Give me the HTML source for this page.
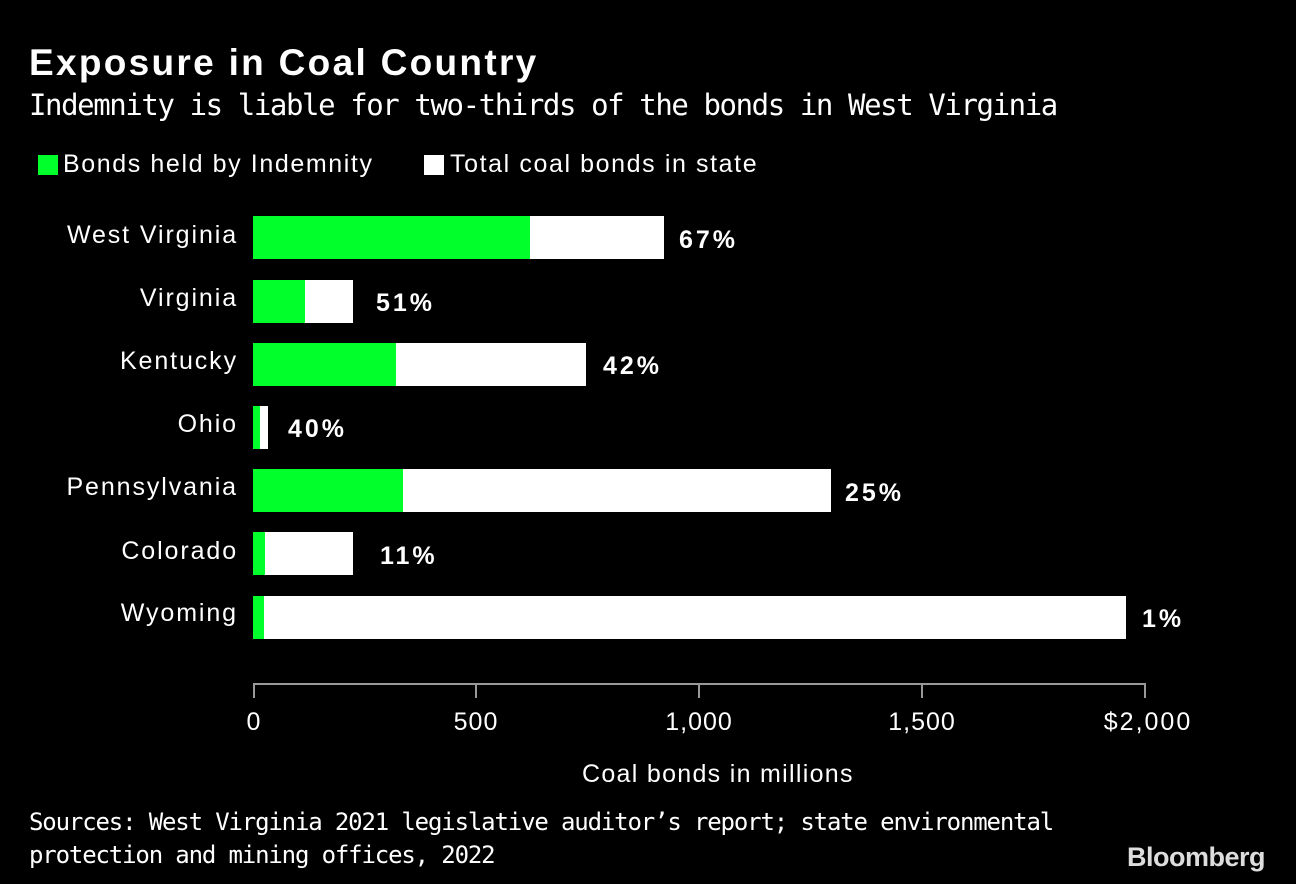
<!DOCTYPE html>
<html><head><meta charset="utf-8"><style>
body{margin:0;background:#000;width:1296px;height:884px;overflow:hidden;position:relative;font-family:"Liberation Sans",sans-serif;color:#fff}
div{position:absolute}
.t{left:29px;top:42px;font-size:37px;font-weight:bold;letter-spacing:2.3px}
.s{left:29px;top:88px;font-size:29px;font-family:"DejaVu Sans Mono","Liberation Mono",monospace;letter-spacing:-1.4px}
.lab{right:1058px;font-size:25px;letter-spacing:1.9px;text-align:right;white-space:nowrap}
.g{background:#00ff2b;height:43px}
.w{background:#fff;height:43px}
.p{font-size:25px;font-weight:bold;letter-spacing:3px}
.tick{width:2px;height:14px;background:#999;top:684px}
.tl{font-size:25px;top:708px;transform:translateX(-50%);letter-spacing:1px}
.src{left:29px;top:806px;font-size:24px;font-family:"DejaVu Sans Mono","Liberation Mono",monospace;letter-spacing:-1.15px;line-height:33px}
</style></head><body>
<div class="t">Exposure in Coal Country</div>
<div class="s">Indemnity is liable for two-thirds of the bonds in West Virginia</div>
<div style="left:38px;top:155px;width:20px;height:20px;background:#00ff2b"></div>
<div style="left:63px;top:150px;font-size:25px;letter-spacing:1.6px">Bonds held by Indemnity</div>
<div style="left:424px;top:155px;width:20px;height:20px;background:#fff"></div>
<div style="left:450px;top:150px;font-size:25px;letter-spacing:1.6px">Total coal bonds in state</div>

<div class="lab" style="top:221px">West Virginia</div>
<div class="w" style="left:253px;top:216px;width:411px"></div><div class="g" style="left:253px;top:216px;width:277px"></div><div class="p" style="left:679px;top:226px">67%</div>

<div class="lab" style="top:284px">Virginia</div>
<div class="w" style="left:253px;top:280px;width:100px"></div><div class="g" style="left:253px;top:280px;width:52px"></div><div class="p" style="left:376px;top:289px">51%</div>

<div class="lab" style="top:347px">Kentucky</div>
<div class="w" style="left:253px;top:343px;width:333px"></div><div class="g" style="left:253px;top:343px;width:143px"></div><div class="p" style="left:603px;top:352px">42%</div>

<div class="lab" style="top:410px">Ohio</div>
<div class="w" style="left:253px;top:406px;width:15px"></div><div class="g" style="left:253px;top:406px;width:7px"></div><div class="p" style="left:288px;top:415px">40%</div>

<div class="lab" style="top:473px">Pennsylvania</div>
<div class="w" style="left:253px;top:469px;width:578px"></div><div class="g" style="left:253px;top:469px;width:150px"></div><div class="p" style="left:845px;top:479px">25%</div>

<div class="lab" style="top:537px">Colorado</div>
<div class="w" style="left:253px;top:532px;width:100px"></div><div class="g" style="left:253px;top:532px;width:12px"></div><div class="p" style="left:380px;top:542px">11%</div>

<div class="lab" style="top:599px">Wyoming</div>
<div class="w" style="left:253px;top:596px;width:873px"></div><div class="g" style="left:253px;top:596px;width:11px"></div><div class="p" style="left:1142px;top:605px">1%</div>

<div style="left:253px;top:683px;width:893px;height:2px;background:#999"></div>
<div class="tick" style="left:253px"></div><div class="tick" style="left:475px"></div><div class="tick" style="left:698px"></div><div class="tick" style="left:921px"></div><div class="tick" style="left:1144px"></div>
<div class="tl" style="left:254px">0</div><div class="tl" style="left:476px">500</div><div class="tl" style="left:699px">1,000</div><div class="tl" style="left:922px">1,500</div><div class="tl" style="left:1148px;letter-spacing:2px">$2,000</div>
<div style="left:582px;top:760px;font-size:25px;letter-spacing:1.3px">Coal bonds in millions</div>
<div class="src">Sources: West Virginia 2021 legislative auditor’s report; state environmental<br>protection and mining offices, 2022</div>
<div style="left:1127px;top:842px;font-size:27px;font-weight:bold;color:#ddd;letter-spacing:-0.5px">Bloomberg</div>
</body></html>
